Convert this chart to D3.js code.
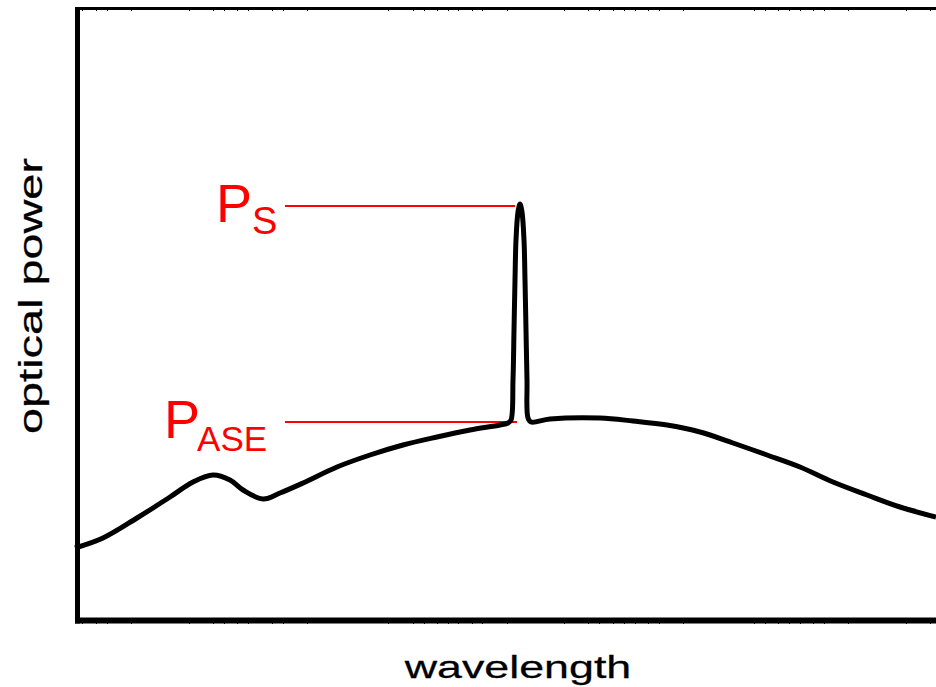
<!DOCTYPE html>
<html>
<head>
<meta charset="utf-8">
<script src="https://cdn.jsdelivr.net/npm/d3@7"></script>
<style>
  body { margin: 0; background: #fff; }
  svg { display: block; }
</style>
</head>
<body>
<div id="wrapper"></div>
<script>
// spectrum in arbitrary units (no tick labels on the original)
const wavelength = [0, 28, 62, 95, 118, 138, 155, 168, 188, 205, 228, 262, 295, 328, 362, 395, 425, 433, 436,
    438, 439, 440, 441, 443, 445, 447, 449, 450, 451, 452, 453, 456, 475, 525, 558, 592, 625, 658, 692, 725,
    758, 792, 825, 861];
const power = [73, 83, 103, 124, 139, 146, 141, 131, 122, 128, 138, 154, 166, 176, 184, 191, 196, 198, 201,
    241, 291, 341, 381, 409, 417, 409, 381, 341, 291, 241, 203, 199, 202, 203, 200, 196, 189, 178, 166, 154,
    139, 126, 114, 104];
const minorTicks = [7, 21, 32, 56, 114, 138, 149, 162, 173, 197, 208, 232, 313, 338, 349, 362, 373, 383, 397,
    407, 432, 489, 513, 524, 538, 549, 560, 573, 584, 608, 679, 690, 703, 714, 725, 738, 749, 773, 831, 855];
const markerLabels = ["S", "ASE"];
const markerLevels = [415, 199];
const markerEnds = [440, 442];

const width = 936
const height = 687
let dimension = {
    margin: { top: 8, right: 0, bottom: 66, left: 75 },
}
dimension.boundedWidth = width - dimension.margin.left - dimension.margin.right
dimension.boundedHeight = height - dimension.margin.top - dimension.margin.bottom

const wrapper = d3.select("#wrapper")
    .append("svg")
    .attr("width", width)
    .attr("height", height);

const bounds = wrapper.append("g")
    .attr("transform", `translate(${dimension.margin.left},${dimension.margin.top})`);

const xScaler = d3.scaleLinear()
    .domain([0, 861])
    .range([0, dimension.boundedWidth])

const yScaler = d3.scaleLinear()
    .domain([0, 613])
    .range([dimension.boundedHeight, 0])

const data = wavelength.map((w, i) => ({ x: w, y: power[i] }))

// frame: thick left and bottom, thinner top, with tiny minor ticks
const xAxisGen = d3.axisBottom(xScaler)
    .tickValues(minorTicks)
    .tickSize(2)
    .tickSizeOuter(0)
    .tickFormat("");

const xAxis = bounds.append("g")
    .attr("transform", `translate(0,${dimension.boundedHeight - 2})`)
    .call(xAxisGen);
xAxis.select(".domain").remove();
xAxis.selectAll(".tick line").attr("transform", "translate(0,3)").attr("stroke-width", 1);

bounds.append("line")
    .attr("x1", 0)
    .attr("x2", dimension.boundedWidth)
    .attr("y1", dimension.boundedHeight - 0.5)
    .attr("y2", dimension.boundedHeight - 0.5)
    .attr("stroke", "#000")
    .attr("stroke-width", 6);

const topAxisGen = d3.axisBottom(xScaler)
    .tickValues(minorTicks)
    .tickSize(2)
    .tickSizeOuter(0)
    .tickFormat("");
const topAxis = bounds.append("g")
    .attr("transform", `translate(0,1)`)
    .call(topAxisGen);
topAxis.select(".domain").remove();
topAxis.selectAll(".tick line").attr("stroke-width", 1);

bounds.append("line")
    .attr("x1", 0)
    .attr("x2", dimension.boundedWidth)
    .attr("y1", 0.5)
    .attr("y2", 0.5)
    .attr("stroke", "#000")
    .attr("stroke-width", 3);

bounds.append("line")
    .attr("x1", 2.5)
    .attr("x2", 2.5)
    .attr("y1", -1)
    .attr("y2", dimension.boundedHeight + 2.5)
    .attr("stroke", "#000")
    .attr("stroke-width", 5);

// red markers for signal and ASE levels
const markers = bounds.append("g");
markers.selectAll("line")
    .data(markerLevels)
    .join("line")
    .attr("x1", xScaler(210))
    .attr("x2", (d, i) => xScaler(markerEnds[i]))
    .attr("y1", d => yScaler(d))
    .attr("y2", d => yScaler(d))
    .attr("stroke", "#ff0000")
    .attr("stroke-width", 2);

const labelGroup = markers.selectAll("text")
    .data(markerLevels)
    .join("text")
    .attr("x", (d, i) => i == 0 ? 216 - dimension.margin.left : 164 - dimension.margin.left)
    .attr("y", d => yScaler(d) + 16)
    .attr("fill", "#ff0000")
    .attr("font-family", "Liberation Sans, Arial, sans-serif")
    .attr("font-size", "54px");
labelGroup.append("tspan").text("P");
labelGroup.append("tspan")
    .attr("font-size", (d, i) => i == 0 ? "38px" : "35px")
    .attr("dx", (d, i) => i == 0 ? 0 : -3)
    .attr("dy", (d, i) => i == 0 ? 12 : 13)
    .text((d, i) => markerLabels[i]);

// spectrum curve
const lineGen = d3.line()
    .x(d => xScaler(d.x))
    .y(d => yScaler(d.y))
    .curve(d3.curveCatmullRom.alpha(0.5));

bounds.append("path")
    .datum(data)
    .attr("d", lineGen)
    .attr("fill", "none")
    .attr("stroke", "#000")
    .attr("stroke-width", 5)
    .attr("stroke-linejoin", "round");

// axis labels, drawn with a wide face like the original
wrapper.append("text")
    .attr("transform", "translate(518,678) scale(1.4,1)")
    .attr("text-anchor", "middle")
    .attr("font-family", "Liberation Sans, Arial, sans-serif")
    .attr("font-size", "32px")
    .attr("stroke", "#000")
    .attr("stroke-width", 0.25)
    .text("wavelength");

wrapper.append("text")
    .attr("transform", "translate(42,296) rotate(-90) scale(1.42,1)")
    .attr("text-anchor", "middle")
    .attr("font-family", "Liberation Sans, Arial, sans-serif")
    .attr("font-size", "33px")
    .attr("stroke", "#000")
    .attr("stroke-width", 0.25)
    .text("optical power");
</script>
</body>
</html>
